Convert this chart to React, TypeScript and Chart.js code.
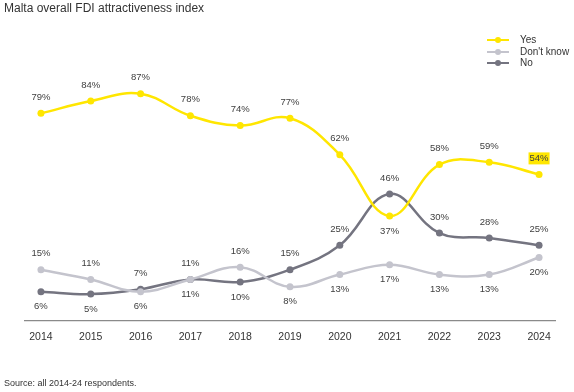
import React, { useEffect, useRef } from "react";
import { Chart, registerables } from "chart.js";

Chart.register(...registerables);

// ---- Data ----
const years = [2014, 2015, 2016, 2017, 2018, 2019, 2020, 2021, 2022, 2023, 2024];
const yesValues = [79, 84, 87, 78, 74, 77, 62, 37, 58, 59, 54];
const dontKnowValues = [15, 11, 6, 11, 16, 8, 13, 17, 13, 13, 20];
const noValues = [6, 5, 7, 11, 10, 15, 25, 46, 30, 28, 25];
const seriesNames = ["Yes", "Don't know", "No"];
const titleText = "Malta overall FDI attractiveness index";
const sourceText = "Source: all 2014-24 respondents.";

// ---- Styles ----
const YES = "#FFE600";
const DONT_KNOW = "#C4C4CD";
const NO = "#747480";
const seriesColors = [YES, DONT_KNOW, NO];
// label placement per point: "a" = above, "b" = below
const yesLabelSide = ["a", "a", "a", "a", "a", "a", "a", "b", "a", "a", "a"];
const dontKnowLabelSide = ["a", "a", "b", "a", "a", "b", "b", "b", "b", "b", "b"];
const noLabelSide = ["b", "b", "a", "b", "b", "a", "a", "a", "a", "a", "a"];
const labelSides = [yesLabelSide, dontKnowLabelSide, noLabelSide];
const highlightSeries = 0;
const highlightYear = 2024;

const FONT = '"Liberation Sans", Arial, sans-serif';

export default function App() {
  const canvasRef = useRef<HTMLCanvasElement | null>(null);

  useEffect(() => {
    const canvas = canvasRef.current;
    if (!canvas) return;

    const labelPlugin = {
      id: "valueLabels",
      afterDatasetsDraw(chart: any) {
        const ctx = chart.ctx;
        ctx.save();
        ctx.font = `9.5px ${FONT}`;
        ctx.textAlign = "center";
        ctx.textBaseline = "middle";
        chart.data.datasets.forEach((ds: any, di: number) => {
          const meta = chart.getDatasetMeta(di);
          const sides = labelSides[di];
          meta.data.forEach((pt: any, i: number) => {
            const v = ds.data[i].y;
            const text = `${v}%`;
            const y = sides[i] === "a" ? pt.y - 16 : pt.y + 15;
            if (di === highlightSeries && years[i] === highlightYear) {
              const w = ctx.measureText(text).width;
              ctx.fillStyle = YES;
              ctx.fillRect(pt.x - w / 2 - 1, y - 6, w + 2, 12);
            }
            ctx.fillStyle = "#404040";
            ctx.fillText(text, pt.x, y);
          });
        });
        ctx.restore();
      },
    };

    const seriesValues = [yesValues, dontKnowValues, noValues];
    const chart = new Chart(canvas, {
      type: "line",
      data: {
        datasets: seriesNames.map((name, si) => ({
          label: name,
          data: years.map((x, i) => ({ x, y: seriesValues[si][i] })),
          borderColor: seriesColors[si],
          backgroundColor: seriesColors[si],
          pointBackgroundColor: seriesColors[si],
          pointBorderColor: seriesColors[si],
          pointBorderWidth: 0,
          pointRadius: 3.5,
          borderWidth: 2.5,
          tension: 0.4,
          clip: false as any,
        })),
      },
      options: {
        responsive: false,
        animation: false,
        devicePixelRatio: 1,
        layout: { padding: { left: 25, right: 19, top: 40, bottom: 0 } },
        plugins: {
          legend: { display: false },
          tooltip: { enabled: false },
          title: { display: false },
        },
        scales: {
          x: {
            type: "linear",
            min: 2013.68,
            max: 2024.32,
            grid: { display: false, drawTicks: false },
            border: { display: true, color: "#8a8a8a", width: 1.3 },
            ticks: {
              padding: 10,
              color: "#333333",
              font: { family: FONT, size: 10.5 },
              callback: (v: any) => String(v),
            },
            afterBuildTicks: (s: any) => {
              s.ticks = years.map((v) => ({ value: v }));
            },
            afterFit: (s: any) => {
              s.height = 71;
            },
          },
          y: { display: false, min: -6, max: 109 },
        },
      },
      plugins: [labelPlugin],
    } as any);

    return () => chart.destroy();
  }, []);

  const legendRowsY = [40, 51.7, 63.3];

  return (
    <div style={{ position: "absolute", left: 0, top: 0, width: 574, height: 392, background: "#fff" }}>
      <canvas ref={canvasRef} width={574} height={392} style={{ position: "absolute", left: 0, top: 0, width: 574, height: 392 }} />
      <div
        style={{
          position: "absolute",
          left: 4,
          top: 1.5,
          fontFamily: FONT,
          fontSize: 12,
          lineHeight: "12px",
          color: "#333",
          whiteSpace: "nowrap",
        }}
      >
        {titleText}
      </div>
      {seriesNames.map((name, i) => (
        <div key={name} style={{ position: "absolute", left: 487, top: legendRowsY[i] - 6, height: 12, width: 90 }}>
          <div style={{ position: "absolute", left: 0, top: 5, width: 22, height: 2, background: seriesColors[i] }} />
          <div
            style={{
              position: "absolute",
              left: 8,
              top: 3,
              width: 6,
              height: 6,
              borderRadius: 3,
              background: seriesColors[i],
            }}
          />
          <div
            style={{
              position: "absolute",
              left: 33,
              top: 0,
              fontFamily: FONT,
              fontSize: 10,
              lineHeight: "12px",
              color: "#333",
              whiteSpace: "nowrap",
            }}
          >
            {name}
          </div>
        </div>
      ))}
      <div
        style={{
          position: "absolute",
          left: 4,
          top: 378.5,
          fontFamily: FONT,
          fontSize: 9,
          lineHeight: "9px",
          color: "#333",
          whiteSpace: "nowrap",
        }}
      >
        {sourceText}
      </div>
    </div>
  );
}
